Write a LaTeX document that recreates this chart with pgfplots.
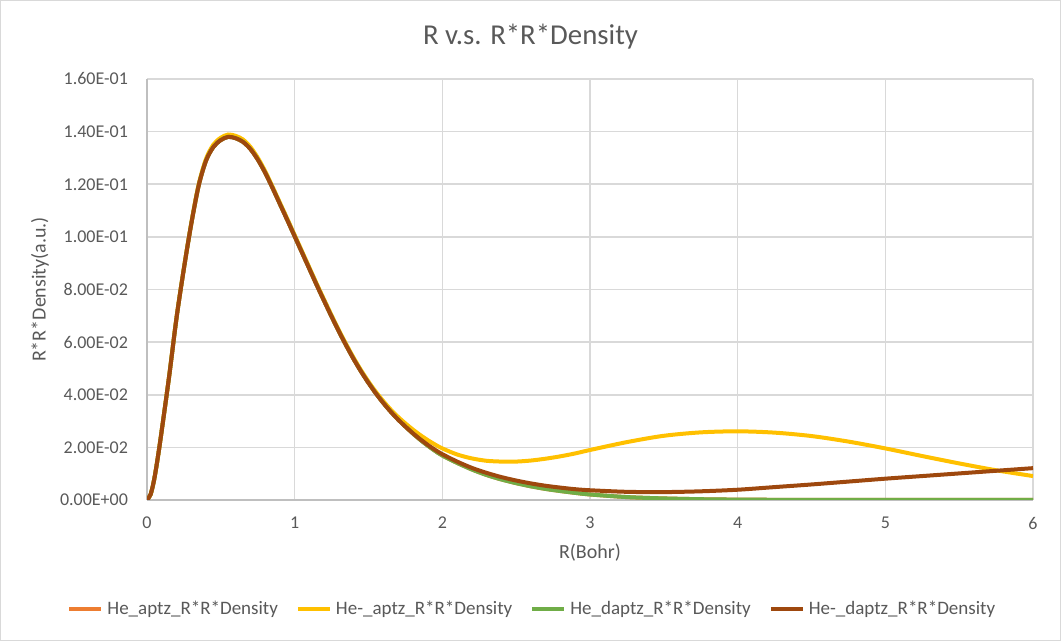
\documentclass[border=0pt]{standalone}
\usepackage{pgfplots}
\usepackage{pgfplotstable}
\pgfplotsset{compat=1.18}
\usepackage{fontspec}
\setmainfont{Carlito}
\definecolor{txt}{HTML}{595959}
\definecolor{gridc}{HTML}{D9D9D9}
\definecolor{axc}{HTML}{BFBFBF}
\definecolor{c1}{HTML}{ED7D31}
\definecolor{c2}{HTML}{FFC000}
\definecolor{c3}{HTML}{70AD47}
\definecolor{c4}{HTML}{9E480E}

% r, He_aptz, He-_aptz, He_daptz, He-_daptz
\pgfplotstableread{
r a b c d
0 0 0 0 0
0.025 0.0022 0.0022 0.0022 0.0022
0.05 0.0082 0.0082 0.0082 0.0082
0.075 0.0168 0.0168 0.0168 0.0168
0.1 0.0265 0.0266 0.0265 0.0265
0.15 0.0470 0.0471 0.0470 0.0470
0.2 0.0692 0.0694 0.0692 0.0692
0.25 0.0880 0.0882 0.0880 0.0880
0.3 0.1050 0.1053 0.1050 0.1050
0.35 0.1195 0.1200 0.1195 0.1195
0.4 0.1290 0.1297 0.1290 0.1290
0.45 0.1342 0.1351 0.1342 0.1342
0.5 0.1368 0.1377 0.1368 0.1368
0.55 0.1380 0.1389 0.1380 0.1380
0.6 0.1375 0.1384 0.1375 0.1375
0.65 0.1361 0.1370 0.1361 0.1361
0.7 0.1334 0.1342 0.1334 0.1334
0.75 0.1294 0.1301 0.1294 0.1294
0.8 0.1244 0.1250 0.1244 0.1244
0.85 0.1186 0.1191 0.1186 0.1186
0.9 0.1125 0.1130 0.1125 0.1125
0.95 0.1064 0.1069 0.1064 0.1064
1.0 0.1002 0.1007 0.1002 0.1002
1.05 0.0940 0.0945 0.0940 0.0940
1.1 0.0878 0.0883 0.0878 0.0878
1.15 0.0816 0.0821 0.0816 0.0816
1.2 0.0756 0.0761 0.0756 0.0756
1.25 0.0697 0.0702 0.0697 0.0697
1.3 0.0640 0.0645 0.0640 0.0640
1.35 0.0586 0.0591 0.0586 0.0586
1.4 0.0535 0.0540 0.0535 0.0535
1.45 0.0488 0.0493 0.0488 0.0488
1.5 0.0445 0.0450 0.0445 0.0445
1.55 0.0405 0.0411 0.0405 0.0405
1.6 0.0369 0.0376 0.0369 0.0369
1.65 0.0336 0.0344 0.0336 0.0336
1.7 0.0306 0.0316 0.0306 0.0306
1.75 0.0279 0.0291 0.0279 0.0279
1.8 0.0253 0.0268 0.0253 0.0254
1.85 0.0229 0.0247 0.0229 0.0231
1.9 0.0207 0.0228 0.0207 0.0210
1.95 0.0187 0.0211 0.0187 0.0191
2.0 0.0169 0.0196 0.0169 0.0174
2.1 0.0141 0.0173 0.0141 0.0146
2.2 0.0116 0.0158 0.0116 0.0122
2.3 0.0095 0.0149 0.0095 0.0103
2.4 0.0078 0.0146 0.0078 0.0087
2.5 0.0064 0.0146 0.0064 0.0074
2.6 0.0052 0.0150 0.0052 0.0063
2.7 0.0042 0.0157 0.0042 0.0054
2.8 0.0034 0.0166 0.0034 0.0047
2.9 0.0027 0.0177 0.0027 0.0041
3.0 0.0021 0.0190 0.0021 0.0037
3.25 0.0011 0.0220 0.0011 0.0031
3.5 0.0006 0.0244 0.0006 0.0030
3.75 0.0003 0.0257 0.0003 0.0033
4.0 0.00015 0.0261 0.00015 0.0039
4.25 0.00008 0.0256 0.00008 0.0049
4.5 0.00004 0.0243 0.00004 0.0059
4.75 0.00002 0.0222 0.00002 0.0070
5.0 0.00001 0.0196 0.00001 0.0081
5.25 0 0.0167 0 0.0091
5.5 0 0.0139 0 0.0101
5.75 0 0.0113 0 0.0111
6.0 0 0.0091 0 0.0121
}\dens

\begin{document}
\begin{tikzpicture}[x=1pt,y=1pt]
\useasboundingbox (0,0) rectangle (530.5,320.5);
\draw[gridc, line width=0.6pt] (0.3,0.3) rectangle (530.2,320.2);
\node[txt, font=\fontsize{14.4}{17}\selectfont] at (265.25,302) {R v.s. R*R*Density};
\begin{axis}[
  at={(73.5pt,70.5pt)}, anchor=south west,
  scale only axis, width=443pt, height=210.5pt,
  xmin=0, xmax=6, ymin=0, ymax=0.16,
  axis x line*=bottom, axis y line*=left,
  axis line style={draw=axc, line width=0.8pt, -},
  grid=major, grid style={gridc, line width=0.8pt},
  major tick length=0pt,
  xtick={0,1,2,3,4,5,6},
  xticklabels={0,1,2,3,4,5,6},
  ytick={0,0.02,0.04,0.06,0.08,0.10,0.12,0.14,0.16},
  yticklabels={0.00E+00,2.00E-02,4.00E-02,6.00E-02,8.00E-02,1.00E-01,1.20E-01,1.40E-01,1.60E-01},
  tick label style={font=\fontsize{9}{11}\selectfont, text=txt},
  yticklabel style={xshift=-6pt},
  xticklabel style={yshift=-5pt},
  xlabel={R(Bohr)}, ylabel={R*R*Density(a.u.)},
  label style={font=\fontsize{10}{12}\selectfont, text=txt},
  xlabel style={at={(rel axis cs:0.5,0)}, anchor=center, yshift=-26.5pt},
  ylabel style={at={(rel axis cs:0,0.5)}, anchor=center, yshift=53.5pt},
  legend style={at={(rel axis cs:0.436,-0.259)}, anchor=center, draw=none,
    font=\fontsize{9.5}{11}\selectfont, text=txt, legend columns=4,
    /tikz/every even column/.append style={column sep=7pt}},
  legend image code/.code={\draw[#1, line width=2pt] (0pt,0pt) -- (16pt,0pt);},
  every axis plot/.append style={line width=2pt, no markers, smooth},
]
\addplot[c1] table[x=r,y=a] {\dens};
\addlegendentry{He\_aptz\_R*R*Density}
\addplot[c2] table[x=r,y=b] {\dens};
\addlegendentry{He-\_aptz\_R*R*Density}
\addplot[c3] table[x=r,y=c] {\dens};
\addlegendentry{He\_daptz\_R*R*Density}
\addplot[c4] table[x=r,y=d] {\dens};
\addlegendentry{He-\_daptz\_R*R*Density}
\end{axis}
\end{tikzpicture}
\end{document}
